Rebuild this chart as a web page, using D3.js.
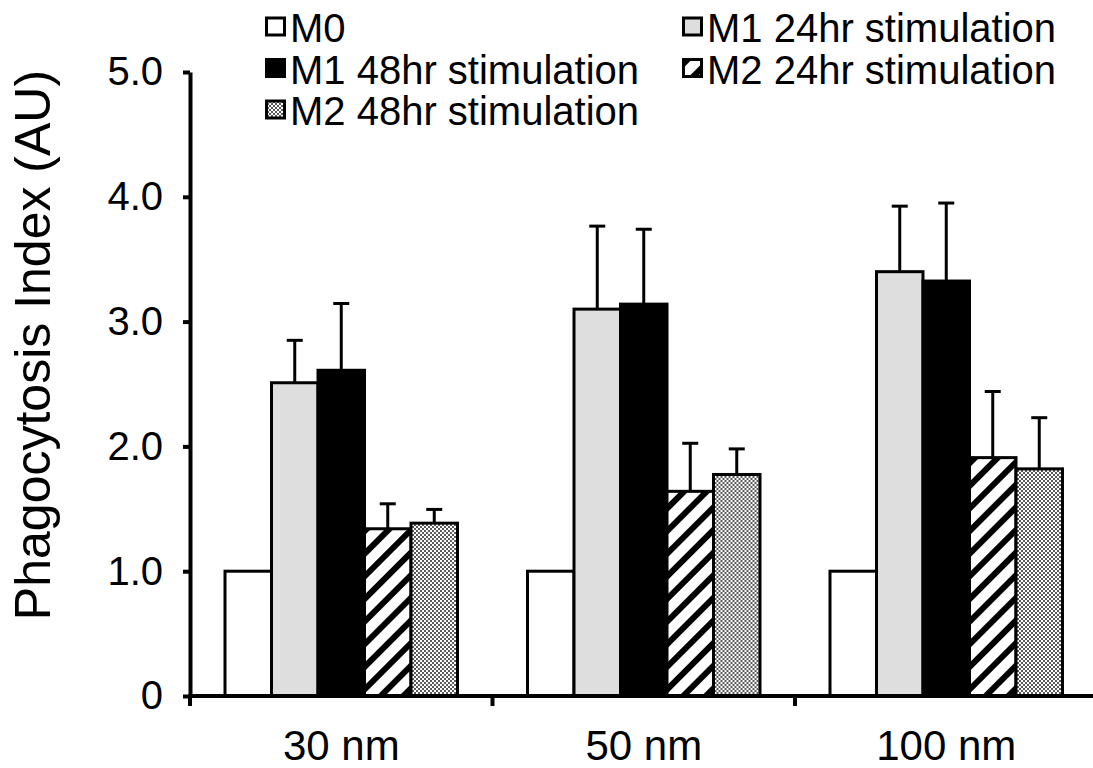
<!DOCTYPE html>
<html>
<head>
<meta charset="utf-8">
<script src="https://cdn.jsdelivr.net/npm/d3@7"></script>
<style>
  body { margin: 0; background: #fff; }
  text { font-family: "Liberation Sans", Arial, sans-serif; fill: #000; }
</style>
</head>
<body>
<div id="chart"></div>
<script>
// data
let categories = ["30 nm", "50 nm", "100 nm"];
let series = ["M0", "M1 24hr stimulation", "M1 48hr stimulation", "M2 24hr stimulation", "M2 48hr stimulation"];
let values = [
    [1.0, 2.51, 2.61, 1.34, 1.385],
    [1.0, 3.10, 3.14, 1.64, 1.775],
    [1.0, 3.40, 3.325, 1.91, 1.82]
];
let errors = [
    [0, 0.34, 0.535, 0.20, 0.11],
    [0, 0.665, 0.60, 0.385, 0.205],
    [0, 0.525, 0.625, 0.53, 0.41]
];
let yTicks = [0, 1, 2, 3, 4, 5];
let yTickLabels = ["0", "1.0", "2.0", "3.0", "4.0", "5.0"];

let width = 1093, height = 768;
let margin = {top: 72, right: -4.5, bottom: 72, left: 190};

let svg = d3.select("#chart").append("svg")
    .attr("width", width)
    .attr("height", height);

// fill patterns
let defs = svg.append("defs");
let hatch = defs.append("pattern")
    .attr("id", "hatch")
    .attr("patternUnits", "userSpaceOnUse")
    .attr("width", 16).attr("height", 16)
    .attr("patternTransform", "rotate(45)");
hatch.append("rect").attr("width", 16).attr("height", 16).attr("fill", "#fff");
hatch.append("rect").attr("width", 6).attr("height", 16).attr("fill", "#000");

let checker = defs.append("pattern")
    .attr("id", "checker")
    .attr("patternUnits", "userSpaceOnUse")
    .attr("width", 4).attr("height", 4);
checker.append("rect").attr("width", 4).attr("height", 4).attr("fill", "#fff");
checker.append("rect").attr("width", 2).attr("height", 2).attr("fill", "#5a5a5a");
checker.append("rect").attr("x", 2).attr("y", 2).attr("width", 2).attr("height", 2).attr("fill", "#5a5a5a");

let fills = ["#fff", "#dedede", "#000", "url(#hatch)", "url(#checker)"];

let x0 = d3.scaleBand()
    .domain(categories)
    .range([margin.left, width - margin.right])
    .padding(0);

let x1 = d3.scaleBand()
    .domain(d3.range(series.length))
    .range([35, x0.bandwidth() - 35])
    .padding(0);

let y = d3.scaleLinear()
    .domain([0, 5])
    .range([height - margin.bottom, margin.top]);

// bars
let groups = svg.selectAll(".group")
    .data(categories)
    .enter().append("g")
    .attr("class", "group")
    .attr("transform", d => `translate(${x0(d)},0)`);

groups.selectAll("rect")
    .data((d, ci) => values[ci].map((v, si) => ({v: v, e: errors[ci][si], s: si})))
    .enter().append("rect")
    .attr("x", d => x1(d.s))
    .attr("y", d => y(d.v))
    .attr("width", x1.bandwidth())
    .attr("height", d => y(0) - y(d.v))
    .attr("fill", d => fills[d.s])
    .attr("stroke", "#000")
    .attr("stroke-width", 3);

// error bars (upper only)
let err = groups.selectAll(".err")
    .data((d, ci) => values[ci].map((v, si) => ({v: v, e: errors[ci][si], s: si})).filter(d => d.e > 0))
    .enter().append("g")
    .attr("class", "err")
    .attr("stroke", "#000")
    .attr("stroke-width", 3);

err.append("line")
    .attr("x1", d => x1(d.s) + x1.bandwidth() / 2)
    .attr("x2", d => x1(d.s) + x1.bandwidth() / 2)
    .attr("y1", d => y(d.v))
    .attr("y2", d => y(d.v + d.e));

err.append("line")
    .attr("x1", d => x1(d.s) + x1.bandwidth() / 2 - 8)
    .attr("x2", d => x1(d.s) + x1.bandwidth() / 2 + 8)
    .attr("y1", d => y(d.v + d.e))
    .attr("y2", d => y(d.v + d.e));

// y axis
let yAxis = svg.append("g")
    .attr("transform", `translate(${margin.left},0)`)
    .call(d3.axisLeft(y).tickValues(yTicks).tickFormat((d, i) => yTickLabels[i]).tickSize(7).tickSizeOuter(0).tickPadding(20));
yAxis.select(".domain").attr("stroke-width", 4);
yAxis.selectAll(".tick line").attr("stroke-width", 4);
yAxis.selectAll(".tick text")
    .style("font-size", "40px")
    .attr("font-family", null);

// x axis
let xAxis = svg.append("g")
    .attr("transform", `translate(0,${y(0)})`)
    .call(d3.axisBottom(x0).tickSize(0).tickPadding(0).tickSizeOuter(0));
xAxis.select(".domain").attr("stroke-width", 4)
    .attr("d", `M${margin.left - 2},0H${width}`);
xAxis.selectAll(".tick text")
    .attr("y", 64)
    .attr("dy", 0)
    .style("font-size", "42px")
    .attr("font-family", null);

// boundary ticks between categories
svg.append("g")
    .selectAll("line")
    .data(categories)
    .enter().append("line")
    .attr("x1", d => x0(d))
    .attr("x2", d => x0(d))
    .attr("y1", y(0))
    .attr("y2", y(0) + 10)
    .attr("stroke", "#000")
    .attr("stroke-width", 4);

// y axis title
svg.append("text")
    .attr("transform", "translate(50,345) rotate(-90)")
    .attr("text-anchor", "middle")
    .style("font-size", "50px")
    .text("Phagocytosis Index (AU)");

// legend
let legendX = [265, 682];
let legendY = [42, 83.5, 125];
let legend = svg.selectAll(".legend")
    .data(series)
    .enter().append("g")
    .attr("class", "legend")
    .attr("transform", (d, i) => `translate(${legendX[i % 2]},${legendY[Math.floor(i / 2)]})`);

legend.append("rect")
    .attr("x", 1.5)
    .attr("y", -24)
    .attr("width", 18)
    .attr("height", 17)
    .attr("fill", (d, i) => fills[i])
    .attr("stroke", "#000")
    .attr("stroke-width", 3);

legend.append("text")
    .attr("x", 25)
    .attr("y", 0)
    .style("font-size", "40px")
    .text(d => d);
</script>
</body>
</html>
